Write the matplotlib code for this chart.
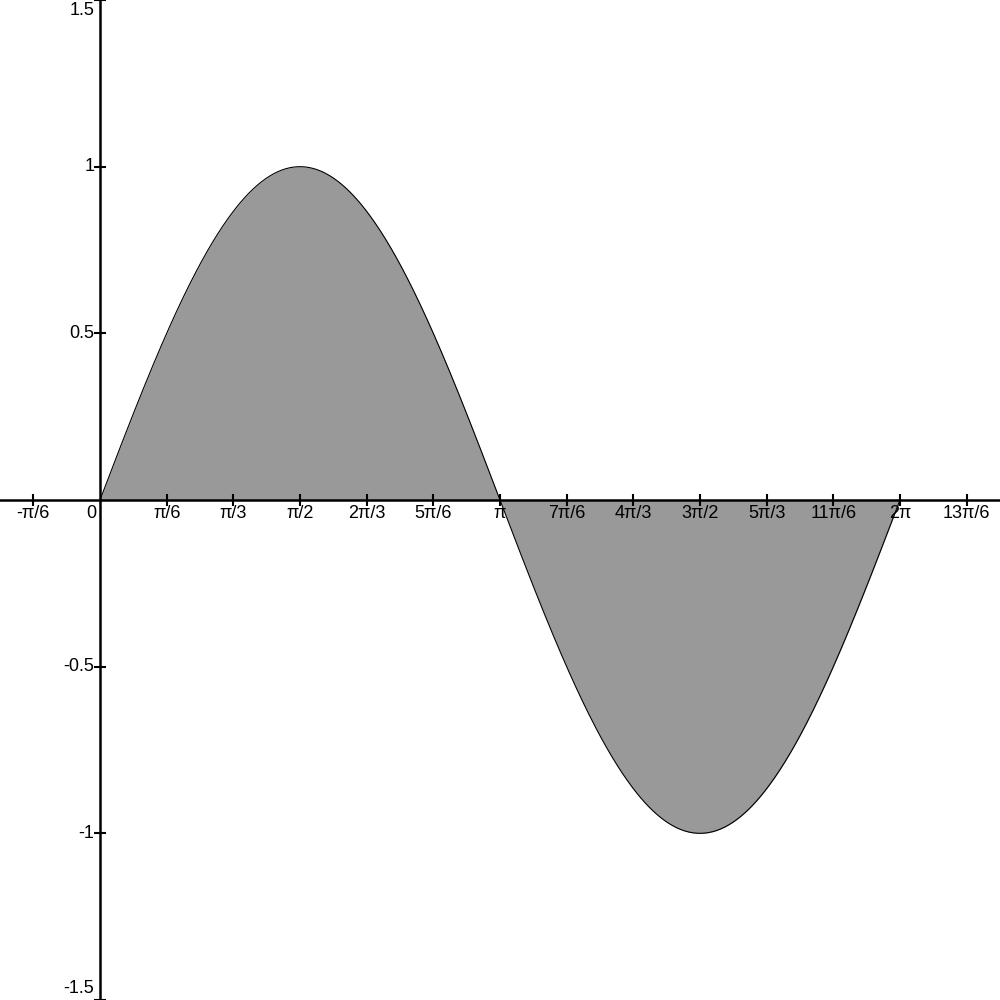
import numpy as np
import matplotlib
matplotlib.use("Agg")
import matplotlib.pyplot as plt

plt.rcParams['font.family'] = ['Liberation Sans', 'DejaVu Sans']

# tick positions in units of pi/6 and their labels
x_steps = [-1, 1, 2, 3, 4, 5, 6, 7, 8, 9, 10, 11, 12, 13]
x_labels = ["-π/6", "π/6", "π/3", "π/2", "2π/3", "5π/6", "π",
            "7π/6", "4π/3", "3π/2", "5π/3", "11π/6", "2π", "13π/6"]
y_ticks = [-1.5, -1, -0.5, 0.5, 1, 1.5]
y_labels = ["-1.5", "-1", "-0.5", "0.5", "1", "1.5"]

# the plotted function: y = sin(x) on [0, 2pi]
x = np.linspace(0, 2 * np.pi, 600)
y = np.sin(x)

fig = plt.figure(figsize=(10, 10), dpi=100)
ax = fig.add_axes([0, 0, 1, 1])
ax.set_xlim(-np.pi / 4, 9 * np.pi / 4)
ax.set_ylim(-1.5, 1.5)

ax.fill_between(x, y, 0, color="#999999", linewidth=0)
ax.plot(x, y, color="black", linewidth=0.8)

for s in ["top", "right"]:
    ax.spines[s].set_visible(False)
ax.spines["left"].set_position(("data", 0))
ax.spines["bottom"].set_position(("data", 0))
ax.spines["left"].set_linewidth(1.8)
ax.spines["bottom"].set_linewidth(1.8)
ax.spines["left"].set_zorder(5)
ax.spines["bottom"].set_zorder(5)

xt = [k * np.pi / 6 for k in x_steps]
ax.set_xticks(xt)
ax.set_yticks(y_ticks)
ax.set_xticklabels([])
ax.set_yticklabels([])
ax.tick_params(direction="inout", length=9, width=1.5, color="black")

fs = 13
for pos, lab in zip(xt, x_labels):
    ax.text(pos, -0.016, lab, ha="center", va="top", fontsize=fs)
ax.text(-0.025, -0.016, "0", ha="right", va="top", fontsize=fs)

for val, lab in zip(y_ticks, y_labels):
    va = "center"
    yy = val
    if val == 1.5:
        va = "top"
        yy = 1.5 - 0.006
    elif val == -1.5:
        va = "bottom"
        yy = -1.5 + 0.008
    ax.text(-0.045, yy, lab, ha="right", va=va, fontsize=fs)

fig.savefig("out.png", dpi=100)
